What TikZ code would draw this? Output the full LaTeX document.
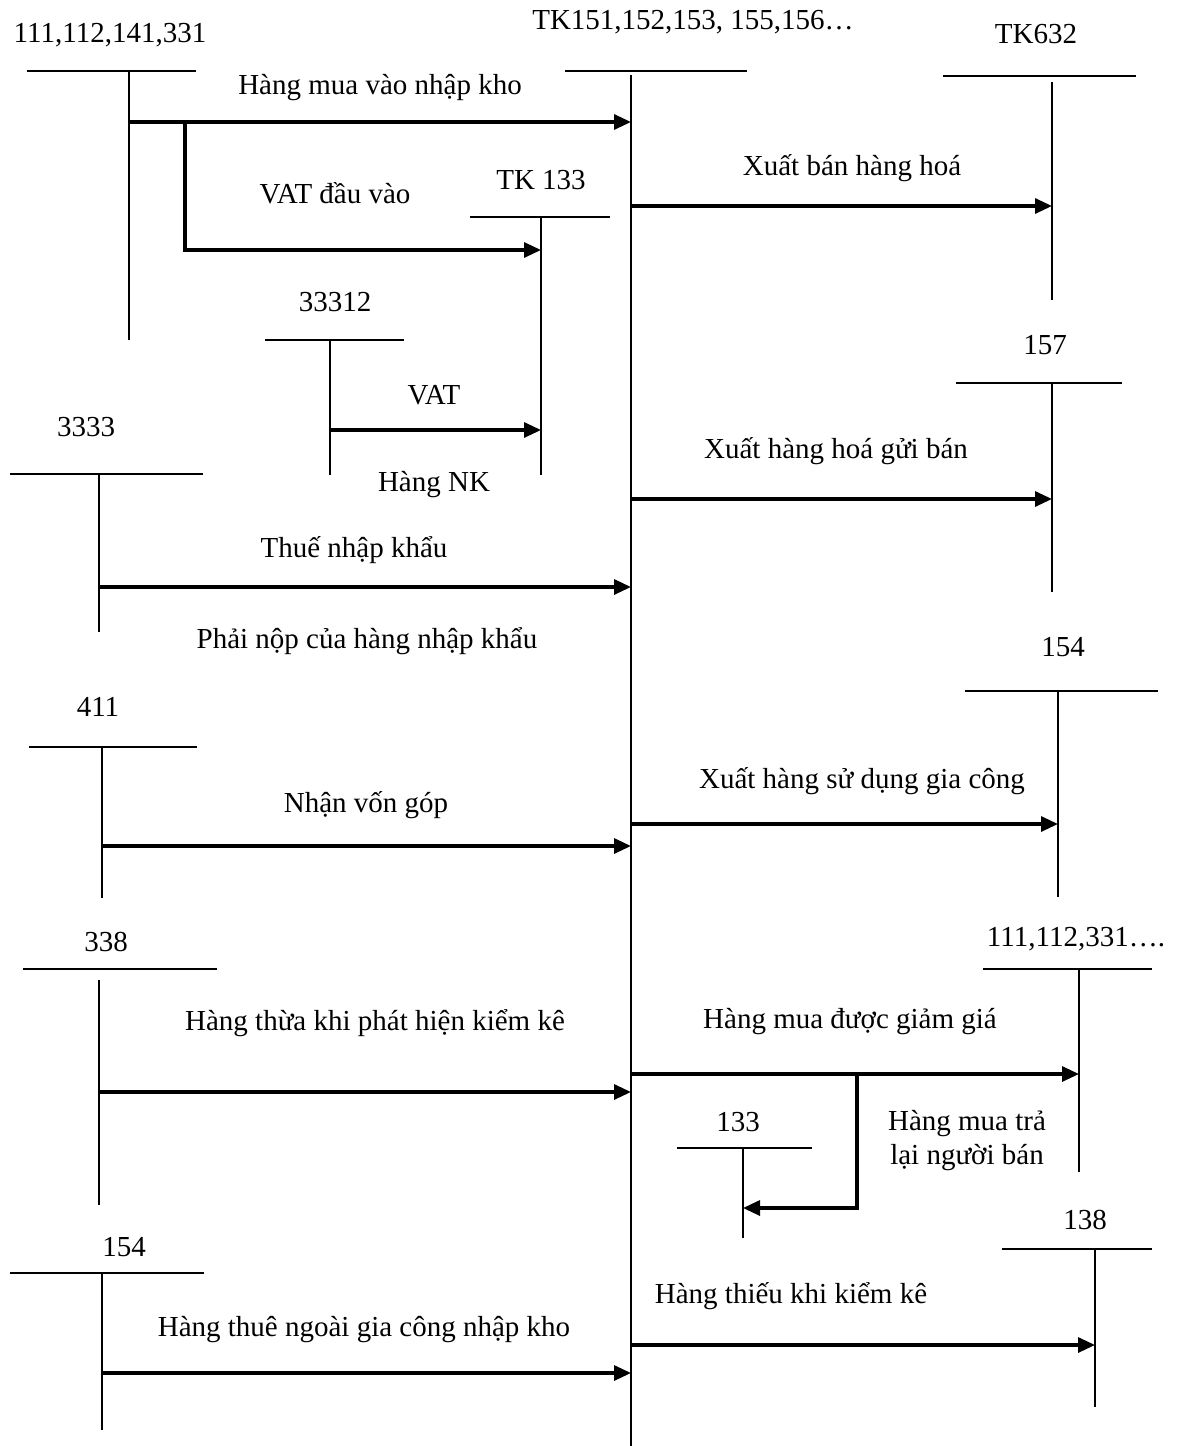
\documentclass[tikz,border=0pt]{standalone}
\usepackage{fontspec}
\setmainfont{Liberation Serif}
\usetikzlibrary{arrows.meta}

% name, bar left, bar right, bar y, stem x, stem top, stem bottom
\newcommand{\taccount}[7]{%
  \draw[tbar] (#2,#4) -- (#3,#4);
  \coordinate (#1) at (#5,#6);
  \coordinate (#1-end) at (#5,#7);
  \draw[tbar] (#1) -- (#1-end);}

\begin{document}
\begin{tikzpicture}[x=0.5pt, y=-0.5pt,
    tbar/.style={line width=1pt},
    post/.style={line width=1.6pt, -{Triangle[length=8.5pt, width=7.5pt]}},
    lbl/.style={inner sep=0pt, yshift=-1.2pt, font=\fontsize{14.5}{16}\selectfont},
    txt/.style={inner sep=0pt, yshift=-1.5pt, font=\fontsize{14.5}{16}\selectfont, align=center}]
  \useasboundingbox (0,0) rectangle (1181,1446);

  % T accounts
  \taccount{kho}{565}{747}{71}{631}{75}{1446}
  \taccount{acc111}{27}{196}{71}{129}{71}{340}
  \taccount{tk133}{470}{610}{217}{541}{217}{475}
  \taccount{acc33312}{265}{404}{340}{330}{340}{475}
  \taccount{acc3333}{10}{203}{474}{99}{474}{632}
  \taccount{acc411}{29}{197}{747}{102}{747}{898}
  \taccount{acc338}{23}{217}{969}{99}{980}{1205}
  \taccount{acc154l}{10}{204}{1273}{102}{1273}{1430}
  \taccount{tk632}{943}{1136}{76}{1052}{82}{300}
  \taccount{acc157}{956}{1122}{383}{1052}{383}{592}
  \taccount{acc154r}{965}{1158}{691}{1058}{691}{897}
  \taccount{acc111r}{983}{1152}{969}{1079}{969}{1172}
  \taccount{acc133}{677}{812}{1148}{743}{1148}{1238}
  \taccount{acc138}{1002}{1152}{1249}{1095}{1249}{1407}

  \node[lbl] (n-kho) at (693,20) {TK151,152,153, 155,156…};
  \node[lbl] (n-acc111) at (110,33) {111,112,141,331};
  \node[lbl] (n-tk133) at (541,178) {TK 133};
  \node[lbl] (n-acc33312) at (335,300) {33312};
  \node[lbl] (n-acc3333) at (86,425) {3333};
  \node[lbl] (n-acc411) at (98,705) {411};
  \node[lbl] (n-acc338) at (106,940) {338};
  \node[lbl] (n-acc154l) at (124,1245) {154};
  \node[lbl] (n-tk632) at (1036,32) {TK632};
  \node[lbl] (n-acc157) at (1045,343) {157};
  \node[lbl] (n-acc154r) at (1063,645) {154};
  \node[lbl] (n-acc111r) at (1076,937) {111,112,331….};
  \node[lbl] (n-acc133) at (738,1120) {133};
  \node[lbl] (n-acc138) at (1085,1218) {138};

  % debit side
  \coordinate (vat) at (185,122);
  \draw[post] (acc111 |- 0,122) -- (kho |- 0,122);
  \draw[post] (vat) |- (tk133 |- 0,250);
  \draw[post] (acc33312 |- 0,430) -- (tk133 |- 0,430);
  \draw[post] (acc3333 |- 0,587) -- (kho |- 0,587);
  \draw[post] (acc411 |- 0,846) -- (kho |- 0,846);
  \draw[post] (acc338 |- 0,1092) -- (kho |- 0,1092);
  \draw[post] (acc154l |- 0,1373) -- (kho |- 0,1373);

  % credit side
  \coordinate (tra) at (857,1074);
  \draw[post] (kho |- 0,206) -- (tk632 |- 0,206);
  \draw[post] (kho |- 0,499) -- (acc157 |- 0,499);
  \draw[post] (kho |- 0,824) -- (acc154r |- 0,824);
  \draw[post] (kho |- 0,1074) -- (acc111r |- 0,1074);
  \draw[post] (tra) |- (acc133 |- 0,1208);
  \draw[post] (kho |- 0,1345) -- (acc138 |- 0,1345);

  \node[txt] (t-mua) at (380,85) {Hàng mua vào nhập kho};
  \node[txt] (t-vat) at (335,190) {VAT đầu vào};
  \node[txt] (t-vatnk) at (434,392) {VAT};
  \node[txt] (t-nk) at (434,482) {Hàng NK};
  \node[txt] (t-thue) at (354,547) {Thuế nhập khẩu};
  \node[txt] (t-phainop) at (367,638) {Phải nộp của hàng nhập khẩu};
  \node[txt] (t-von) at (366,802) {Nhận vốn góp};
  \node[txt] (t-thua) at (375,1020) {Hàng thừa khi phát hiện kiểm kê};
  \node[txt] (t-giacong) at (364,1327) {Hàng thuê ngoài gia công nhập kho};
  \node[txt] (t-ban) at (852,165) {Xuất bán hàng hoá};
  \node[txt] (t-gui) at (836,448) {Xuất hàng hoá gửi bán};
  \node[txt] (t-sudung) at (862,778) {Xuất hàng sử dụng gia công};
  \node[txt] (t-giam) at (850,1019) {Hàng mua được giảm giá};
  \node[txt] (t-tra) at (967,1138) {Hàng mua trả\\[1pt]lại người bán};
  \node[txt] (t-thieu) at (791,1293) {Hàng thiếu khi kiểm kê};
\end{tikzpicture}
\end{document}
